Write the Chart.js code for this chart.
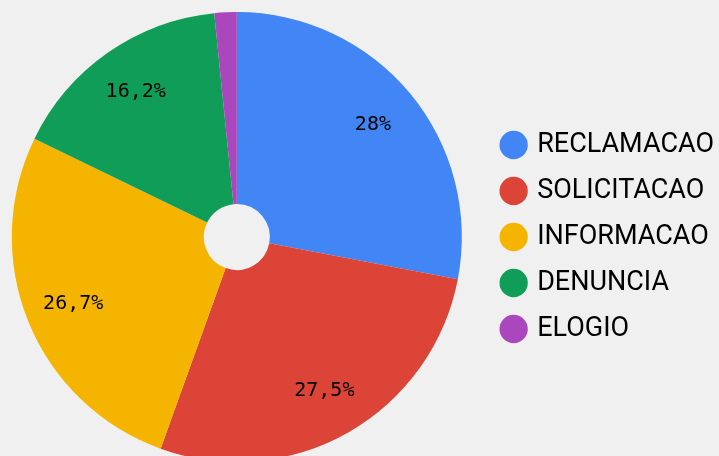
<!DOCTYPE html>
<html>
<head>
<meta charset="utf-8">
<script src="https://cdn.jsdelivr.net/npm/chart.js@4"></script>
<style>
  html, body { margin: 0; padding: 0; background: #f0f0f0; overflow: hidden; }
  #wrap { position: absolute; left: -11px; top: 0; width: 735px; height: 470px; }
</style>
</head>
<body>
<div id="wrap"><canvas id="c"></canvas></div>
<script>
const categories = ['RECLAMACAO', 'SOLICITACAO', 'INFORMACAO', 'DENUNCIA', 'ELOGIO'];
const shares = [28, 27.5, 26.7, 16.2, 1.6];
const sliceLabels = ['28%', '27,5%', '26,7%', '16,2%', ''];
const colors = ['#4285F4', '#DB4437', '#F4B400', '#0F9D58', '#AB47BC'];

const sliceLabelPlugin = {
  id: 'sliceLabels',
  afterDatasetsDraw(chart) {
    const ctx = chart.ctx;
    const meta = chart.getDatasetMeta(0);
    ctx.save();
    ctx.font = '20px "DejaVu Sans Mono"';
    ctx.fillStyle = '#000';
    ctx.textAlign = 'center';
    ctx.textBaseline = 'middle';
    meta.data.forEach((arc, i) => {
      const txt = sliceLabels[i];
      if (!txt) return;
      const p = arc.getProps(['x', 'y', 'startAngle', 'endAngle', 'outerRadius'], true);
      const mid = (p.startAngle + p.endAngle) / 2;
      const d = p.outerRadius * 0.785;
      ctx.fillText(txt, p.x + Math.cos(mid) * d, p.y + Math.sin(mid) * d);
    });
    ctx.restore();
  }
};

new Chart(document.getElementById('c'), {
  type: 'doughnut',
  data: {
    labels: categories,
    datasets: [{
      data: shares,
      backgroundColor: colors,
      borderWidth: 0
    }]
  },
  options: {
    responsive: true,
    maintainAspectRatio: false,
    animation: false,
    cutout: 33,
    layout: { padding: { left: 0, top: 12, bottom: 8, right: 0 } },
    plugins: {
      tooltip: { enabled: false },
      legend: {
        position: 'right',
        labels: {
          usePointStyle: true,
          pointStyle: 'circle',
          boxWidth: 20,
          boxHeight: 20,
          padding: 19,
          color: '#000',
          font: { family: 'Roboto', size: 27 }
        }
      }
    }
  },
  plugins: [sliceLabelPlugin]
});
</script>
</body>
</html>
